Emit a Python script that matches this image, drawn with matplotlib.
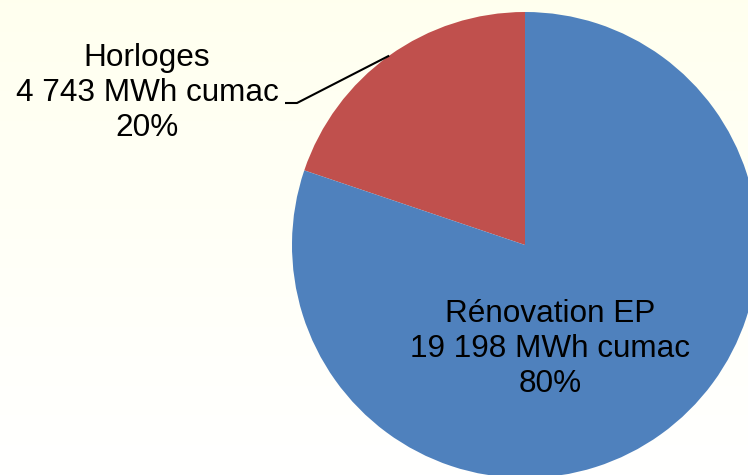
import numpy as np
import matplotlib.pyplot as plt

labels = ['Horloges', 'Rénovation EP']
values = [4743, 19198]
colors = ['#C0504D', '#4F81BD']

W, H = 748, 475
cx, cy, r = 525, H - 245, 233

plt.rcParams['font.family'] = ['Liberation Sans', 'DejaVu Sans']

fig = plt.figure(figsize=(W / 100, H / 100), dpi=100)
ax = fig.add_axes([0, 0, 1, 1])

# light yellow -> white background
grad = np.linspace(0, 1, 256).reshape(-1, 1)
top = np.array([1.0, 1.0, 0.937])
bot = np.array([1.0, 1.0, 1.0])
img = top + (bot - top) * grad[:, :, None]
ax.imshow(img, extent=(0, W, 0, H), aspect='auto', origin='upper', zorder=0)

wedges, _ = ax.pie(values, colors=colors, startangle=90, counterclock=True,
                   center=(cx, cy), radius=r, wedgeprops=dict(linewidth=0))
for w in wedges:
    w.set_zorder(1)

total = sum(values)
txt = ['%s\n%s MWh cumac\n%d%%' % (l, '{:,}'.format(v).replace(',', ' '), round(100 * v / total))
       for l, v in zip(labels, values)]

# Horloges label with leader line
mid = np.deg2rad(90 + 360 * values[0] / total / 2)
ex, ey = cx + r * np.cos(mid), cy + r * np.sin(mid)
ax.plot([ex, 297, 285], [ey, H - 103, H - 103], color='black', lw=1.5, zorder=2,
        solid_capstyle='butt')
ax.text(147, H - 93, txt[0], ha='center', va='center', fontsize=22.7,
        linespacing=1.2, zorder=3)

# Rénovation EP label inside the wedge
ax.text(550, H - 349, txt[1], ha='center', va='center', fontsize=22.7,
        linespacing=1.2, zorder=3)

ax.set_xlim(0, W)
ax.set_ylim(0, H)
ax.set_aspect('auto')
ax.axis('off')

fig.savefig('out.png', dpi=100)
